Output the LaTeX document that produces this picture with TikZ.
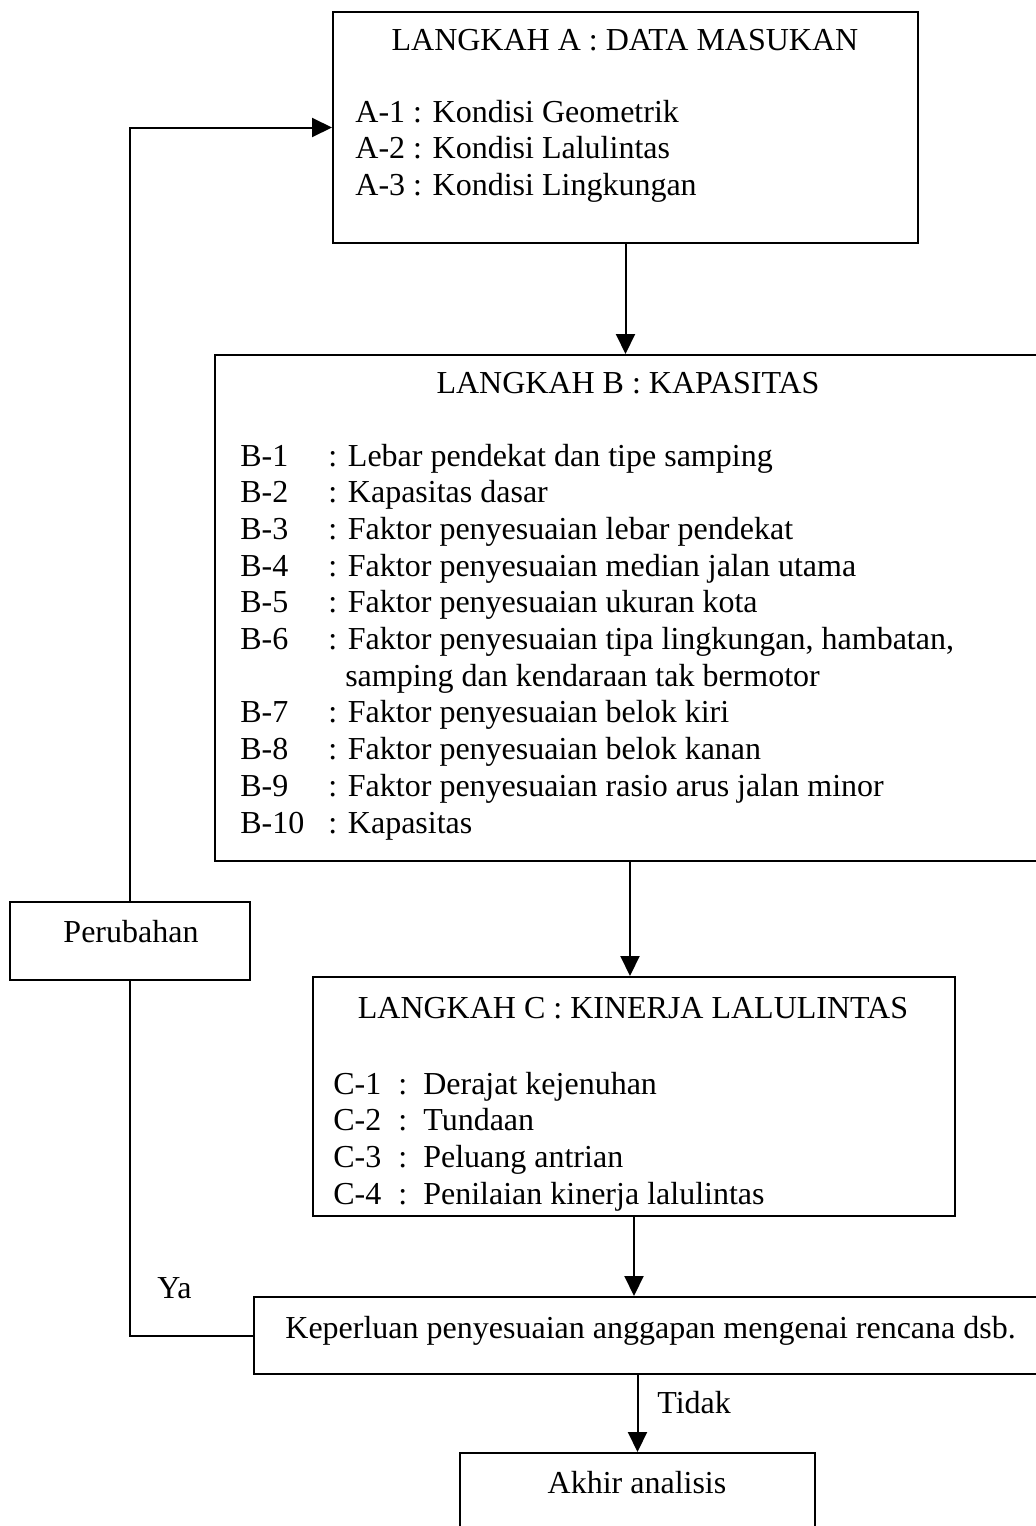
\documentclass[tikz,border=0pt]{standalone}
\usepackage{fontspec}
\setmainfont{Liberation Serif}
\usetikzlibrary{arrows.meta}
\begin{document}
\begin{tikzpicture}[
        x=0.5pt, y=-0.5pt,
        font=\fontsize{16pt}{18.35pt}\selectfont,
        box/.style={draw, line width=1pt, inner sep=0pt},
        txt/.style={inner sep=0pt, anchor=base},
        list/.style={inner sep=0pt, anchor=base west},
        line/.style={line width=1pt},
        arrow/.style={-{Triangle[length=10pt,width=9.5pt]}, line width=1pt}
    ]
        \useasboundingbox (0,0) rectangle (1035,1526);

        % Boxes of the procedure
        \node[box, minimum width=292.5pt, minimum height=115.5pt] (inputs) at (625.5,127.5) {};
        \node[box, minimum width=415pt, minimum height=253pt] (capacity) at (630,608) {};
        \node[box, minimum width=120pt, minimum height=39pt] (change) at (130,941) {};
        \node[box, minimum width=321pt, minimum height=119.5pt] (performance) at (634,1096.5) {};
        \node[box, minimum width=395.5pt, minimum height=38.5pt] (check) at (649.5,1335.5) {};
        \node[box, minimum width=177.5pt, minimum height=46pt] (finish) at (637.5,1499) {};

        % Step A
        \node[txt] (inputs title) at (625,50) {LANGKAH A : DATA MASUKAN};
        \node[list] (inputs list) at (355,122) {\begin{tabular}[t]{@{}l@{}}
            A-1 : Kondisi Geometrik\\
            A-2 : Kondisi Lalulintas\\
            A-3 : Kondisi Lingkungan
        \end{tabular}};

        % Step B
        \node[txt] (capacity title) at (628,393) {LANGKAH B : KAPASITAS};
        \node[list] (capacity list) at (240,466) {\begin{tabular}[t]{@{}p{44pt}@{}l@{}}
            B-1 & : Lebar pendekat dan tipe samping\\
            B-2 & : Kapasitas dasar\\
            B-3 & : Faktor penyesuaian lebar pendekat\\
            B-4 & : Faktor penyesuaian median jalan utama\\
            B-5 & : Faktor penyesuaian ukuran kota\\
            B-6 & : Faktor penyesuaian tipa lingkungan, hambatan,\\
                & \hphantom{:}\ samping dan kendaraan tak bermotor\\
            B-7 & : Faktor penyesuaian belok kiri\\
            B-8 & : Faktor penyesuaian belok kanan\\
            B-9 & : Faktor penyesuaian rasio arus jalan minor\\
            B-10 & : Kapasitas
        \end{tabular}};

        % Step C
        \node[txt] (performance title) at (633,1018) {LANGKAH C : KINERJA LALULINTAS};
        \node[list] (performance list) at (333,1094) {\begin{tabular}[t]{@{}l@{\hspace{8.5pt}:\hspace{8pt}}l@{}}
            C-1 & Derajat kejenuhan\\
            C-2 & Tundaan\\
            C-3 & Peluang antrian\\
            C-4 & Penilaian kinerja lalulintas
        \end{tabular}};

        % Decision and end
        \node[txt] (change text) at (131,942) {Perubahan};
        \node[list] (check text) at (285,1338) {Keperluan penyesuaian anggapan mengenai rencana dsb.};
        \node[txt] (finish text) at (637,1493) {Akhir analisis};
        \node[list] (yes) at (157,1298) {Ya};
        \node[list] (no) at (657,1413) {Tidak};

        % Connect the steps
        \draw[arrow] (inputs.south) -- (inputs.south |- capacity.north);
        \draw[arrow] (capacity.south) -- (capacity.south |- performance.north);
        \draw[arrow] (performance.south) -- (performance.south |- check.north);
        \draw[arrow] (check.south -| finish.north) -- (finish.north);
        \draw[line] (check.west) -| (change.south);
        \draw[arrow] (change.north) |- (inputs.west);
    \end{tikzpicture}
\end{document}
